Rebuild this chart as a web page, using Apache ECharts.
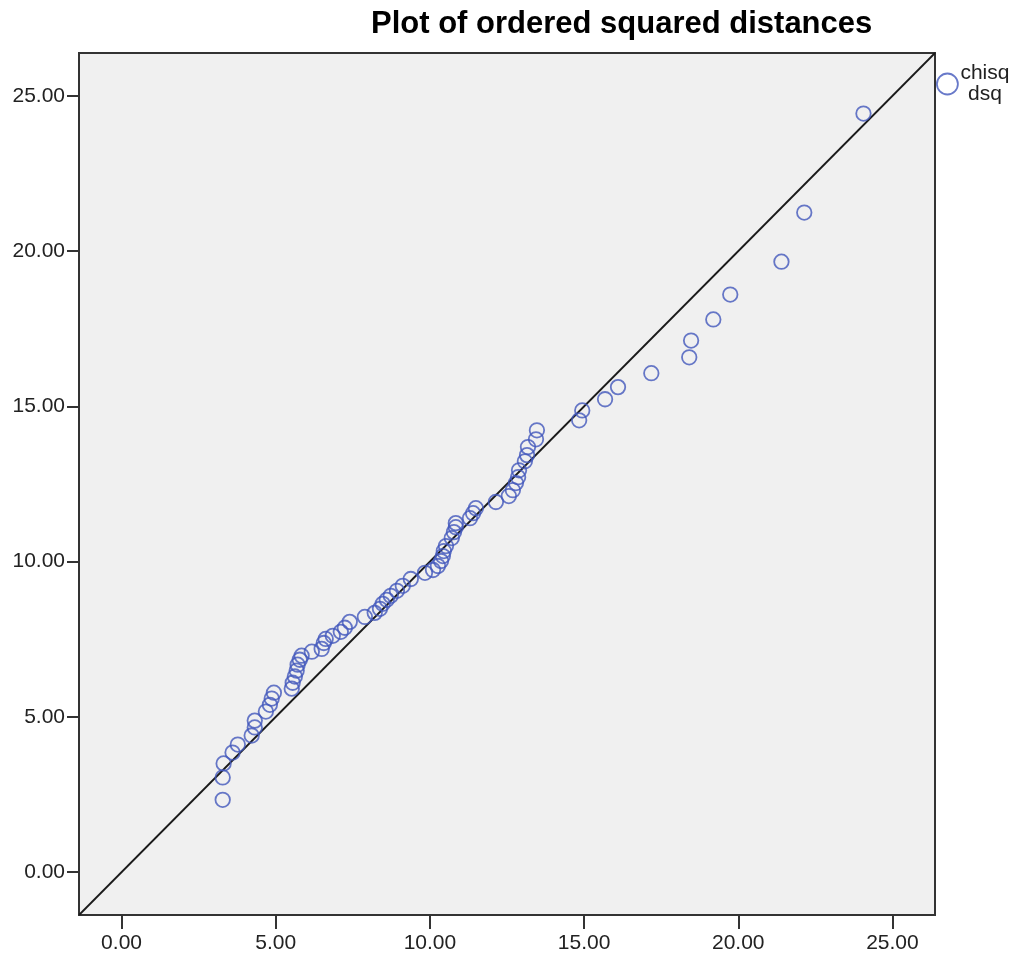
<!DOCTYPE html>
<html>
<head>
<meta charset="utf-8">
<script src="https://cdn.jsdelivr.net/npm/echarts@6/dist/echarts.min.js"></script>
<style>
  html, body { margin: 0; padding: 0; background: #fff; }
  #chart { width: 1018px; height: 959px; }
</style>
</head>
<body>
<div id="chart"></div>
<script>
// ordered chi-square quantiles (x) vs ordered squared distances (y)
const chisq = [3.28, 3.28, 3.31, 3.60, 3.77, 4.22, 4.32, 4.32, 4.68, 4.81, 4.87, 4.94,
  5.52, 5.55, 5.62, 5.68, 5.71, 5.78, 5.84, 6.17, 6.49, 6.56, 6.62, 6.85, 7.11, 7.24,
  7.40, 7.89, 8.21, 8.38, 8.47, 8.60, 8.73, 8.93, 9.12, 9.38, 9.84, 10.10, 10.26, 10.36,
  10.42, 10.45, 10.52, 10.71, 10.78, 10.84, 10.84, 11.30, 11.40, 11.49, 12.14, 12.56,
  12.69, 12.79, 12.86, 12.89, 13.08, 13.15, 13.18, 13.44, 13.47, 14.84, 14.94, 15.68,
  16.10, 17.18, 18.41, 18.47, 19.19, 19.74, 21.40, 22.14, 24.06];
const dsq = [2.33, 3.05, 3.50, 3.85, 4.11, 4.40, 4.66, 4.88, 5.17, 5.39, 5.59, 5.78,
  5.91, 6.10, 6.30, 6.49, 6.68, 6.84, 6.97, 7.10, 7.19, 7.38, 7.51, 7.61, 7.74, 7.87,
  8.06, 8.22, 8.35, 8.48, 8.64, 8.77, 8.90, 9.06, 9.22, 9.44, 9.64, 9.73, 9.86, 10.02,
  10.18, 10.34, 10.50, 10.76, 10.95, 11.11, 11.24, 11.40, 11.56, 11.72, 11.92, 12.11,
  12.30, 12.53, 12.72, 12.94, 13.23, 13.43, 13.69, 13.94, 14.23, 14.55, 14.87, 15.23,
  15.62, 16.07, 16.58, 17.12, 17.80, 18.60, 19.66, 21.24, 24.43];
const tickValues = [0, 5, 10, 15, 20, 25];
const axisRange = [-1.38, 26.38];

const fontFamily = "'Liberation Sans', Arial, sans-serif";
const markerColor = '#4258bb';

const myChart = echarts.init(document.getElementById('chart'));

const points = chisq.map((x, i) => [x, dsq[i]]);

const axisCommon = {
    type: 'value',
    min: axisRange[0],
    max: axisRange[1],
    splitLine: { show: false },
    axisLine: { show: true, onZero: false, lineStyle: { color: '#333', width: 2 } },
    axisTick: {
        show: true,
        customValues: tickValues,
        lineStyle: { color: '#333', width: 2 }
    },
    axisLabel: {
        customValues: tickValues,
        color: '#222',
        fontSize: 21,
        fontFamily: fontFamily,
        formatter: v => v.toFixed(2)
    }
};

const option = {
    backgroundColor: '#fff',
    animation: false,
    title: {
        text: 'Plot of ordered squared distances',
        left: 366,
        top: 4,
        textStyle: { fontSize: 31, fontWeight: 'bold', color: '#000', fontFamily: fontFamily }
    },
    legend: {
        data: ['dsq'],
        left: 931,
        top: 58,
        orient: 'vertical',
        icon: 'circle',
        itemWidth: 21,
        itemHeight: 21,
        itemGap: 2,
        itemStyle: { color: 'transparent', borderColor: markerColor, borderWidth: 1.8 },
        formatter: () => '{a|chisq}\n{a|dsq}',
        textStyle: {
            padding: [0, 0, 0, -4],
            rich: {
                a: { fontSize: 21, fontFamily: fontFamily, color: '#222', width: 52, align: 'center', lineHeight: 21 }
            }
        }
    },
    grid: {
        left: 79,
        right: 83,
        top: 53,
        bottom: 44,
        show: true,
        backgroundColor: '#f0f0f0',
        borderColor: '#333',
        borderWidth: 2
    },
    xAxis: Object.assign({}, axisCommon, {
        axisTick: Object.assign({}, axisCommon.axisTick, { length: 14 }),
        axisLabel: Object.assign({}, axisCommon.axisLabel, { margin: 18 })
    }),
    yAxis: Object.assign({}, axisCommon, {
        axisTick: Object.assign({}, axisCommon.axisTick, { length: 12 }),
        axisLabel: Object.assign({}, axisCommon.axisLabel, { margin: 14 })
    }),
    series: [
        {
            // reference line y = x
            type: 'line',
            name: 'ref',
            data: [[axisRange[0], axisRange[0]], [axisRange[1], axisRange[1]]],
            showSymbol: false,
            silent: true,
            lineStyle: { color: '#1a1a1a', width: 1.8 },
            z: 1
        },
        {
            type: 'scatter',
            name: 'dsq',
            data: points,
            symbol: 'circle',
            symbolSize: 14.5,
            itemStyle: { color: 'transparent', borderColor: markerColor, borderWidth: 1.8 },
            z: 2
        }
    ]
};

myChart.setOption(option, true);
</script>
</body>
</html>
